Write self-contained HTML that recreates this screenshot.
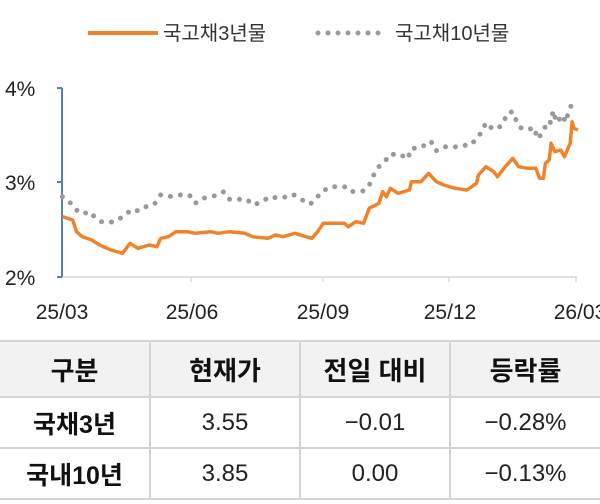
<!DOCTYPE html>
<html><head><meta charset="utf-8"><style>
body{margin:0;width:600px;height:504px;background:#fff;overflow:hidden;font-family:"Liberation Sans","Noto Sans CJK KR",sans-serif;}
svg{position:absolute;left:0;top:0}
table{position:absolute;left:0;top:340px;width:600px;border-collapse:collapse;table-layout:fixed}
td{border:2px solid #d4d4d4;text-align:center;font-size:24px;color:#222;padding:0;font-family:"Liberation Sans","Noto Sans CJK KR",sans-serif}
td:first-child{border-left:none}td:last-child{border-right:none}
tr.h td{background:#f2f2f2;font-weight:bold;font-size:26px;height:54px;color:#111}
tr.r td{height:49px}
tr.r td:first-child{font-weight:bold;font-size:25px;color:#111}
</style></head><body>
<svg width="600" height="340" id="s">
<line x1="88" y1="33" x2="158" y2="33" stroke="#f0832a" stroke-width="4"/>
<text x="163" y="40" font-size="20" fill="#333" font-family="Liberation Sans,Noto Sans CJK KR,sans-serif">국고채3년물</text>
<line x1="318" y1="33" x2="385" y2="33" stroke="#999" stroke-width="5" stroke-linecap="round" stroke-dasharray="0 10"/>
<text x="395" y="40" font-size="20" fill="#333" font-family="Liberation Sans,Noto Sans CJK KR,sans-serif">국고채10년물</text>
<g font-size="21" fill="#222" font-family="Liberation Sans,sans-serif">
<text x="5" y="96">4%</text><text x="5" y="190">3%</text><text x="5" y="285">2%</text>
<text x="62" y="319" text-anchor="middle">25/03</text><text x="192" y="319" text-anchor="middle">25/06</text>
<text x="323" y="319" text-anchor="middle">25/09</text><text x="450" y="319" text-anchor="middle">25/12</text>
<text x="580" y="319" text-anchor="middle">26/03</text></g>
<line x1="62" y1="277" x2="577" y2="277" stroke="#d9d9d9" stroke-width="1.5"/>
<g stroke="#d9d9d9" stroke-width="1.5"><line x1="191" y1="277" x2="191" y2="282"/><line x1="323" y1="277" x2="323" y2="282"/><line x1="449" y1="277" x2="449" y2="282"/><line x1="576" y1="277" x2="576" y2="282"/></g>
<line x1="62" y1="88" x2="62" y2="277" stroke="#4f81bd" stroke-width="2"/>
<g stroke="#4f81bd" stroke-width="2"><line x1="57" y1="88" x2="62" y2="88"/><line x1="57" y1="182" x2="62" y2="182"/><line x1="57" y1="277" x2="62" y2="277"/></g>
<polyline id="g" fill="none" stroke="#999" stroke-width="5" stroke-linecap="round" stroke-dasharray="0 10"/>
<polyline id="o" fill="none" stroke="#f0832a" stroke-width="3.5" stroke-linejoin="round"/>
</svg>
<table>
<tr class="h"><td>구분</td><td>현재가</td><td>전일 대비</td><td>등락률</td></tr>
<tr class="r"><td>국채3년</td><td>3.55</td><td>−0.01</td><td>−0.28%</td></tr>
<tr class="r"><td>국내10년</td><td>3.85</td><td>0.00</td><td>−0.13%</td></tr>
</table>
<script>
function cv(a){var s=[];for(var i=0;i<a.length;i+=2)s.push((a[i]/2.613).toFixed(1)+","+(a[i+1]/3+60).toFixed(1));return s.join(" ");}
var o=[163,470,190,480,200,515,215,530,240,540,260,555,290,570,320,580,340,550,360,565,390,555,410,560,420,535,440,530,460,515,490,515,510,520,550,515,570,520,600,515,640,520,660,530,700,535,720,525,740,530,770,520,800,530,815,535,830,515,845,490,900,490,910,500,930,485,950,490,965,445,990,430,1000,395,1010,410,1020,385,1040,400,1070,390,1075,365,1100,365,1120,340,1140,365,1160,375,1190,385,1220,390,1245,370,1250,345,1270,320,1290,335,1300,350,1320,320,1340,295,1355,320,1380,325,1400,325,1410,355,1420,355,1425,310,1435,300,1440,250,1450,275,1465,270,1475,290,1490,250,1495,185,1500,205,1510,210];
var g=[163,410,185,430,200,450,215,462,235,455,250,475,265,485,285,487,300,485,325,467,345,448,360,452,375,440,390,440,405,430,420,405,440,410,465,405,495,405,510,430,530,415,550,410,570,405,585,395,600,418,625,418,645,418,660,435,680,428,705,410,730,415,750,410,765,403,790,420,810,433,825,418,840,395,865,380,900,380,915,395,935,393,950,393,965,375,975,348,990,320,1005,305,1020,282,1040,285,1045,283,1065,297,1075,265,1090,265,1105,260,1115,245,1130,248,1140,272,1160,260,1185,262,1210,255,1225,258,1245,238,1260,213,1270,188,1285,205,1300,207,1315,190,1325,160,1340,155,1345,172,1360,203,1380,210,1395,202,1405,237,1420,215,1430,183,1440,188,1445,152,1455,188,1470,165,1478,187,1485,158,1495,130,1505,120];
document.getElementById('o').setAttribute('points',cv(o));
document.getElementById('g').setAttribute('points',cv(g));
</script>
</body></html>
